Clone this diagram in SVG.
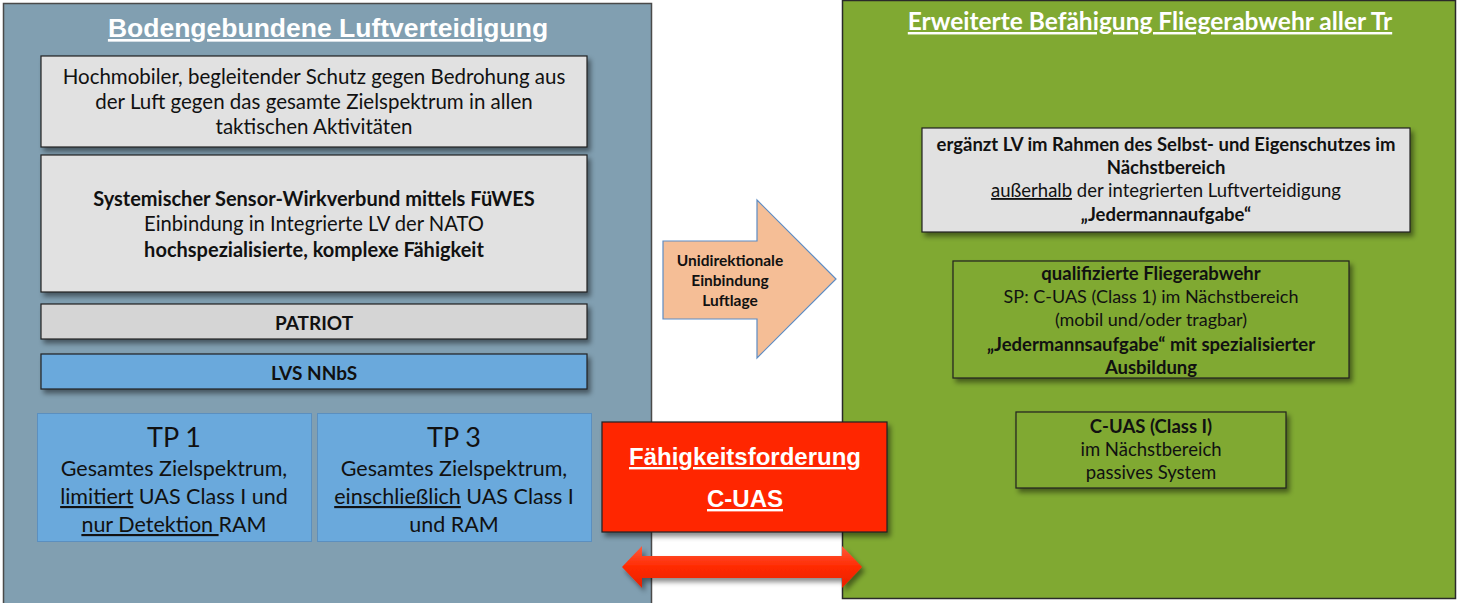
<svg xmlns="http://www.w3.org/2000/svg" width="1458" height="603" viewBox="0 0 1458 603">
<defs>
<filter id="sh" x="-10%" y="-10%" width="125%" height="140%">
<feDropShadow dx="3" dy="4" stdDeviation="2.5" flood-color="#000" flood-opacity="0.45"/>
</filter>
<linearGradient id="rg" x1="0" y1="0" x2="0" y2="1">
<stop offset="0" stop-color="#ff5a3c"/>
<stop offset="0.5" stop-color="#ff2a00"/>
<stop offset="1" stop-color="#e82000"/>
</linearGradient>
</defs>
<style>
.t{font-family:Lato,"Open Sans",sans-serif;fill:#111;text-anchor:middle}
.b{font-weight:bold}
.h{font-family:"Liberation Sans",Arial,sans-serif;font-weight:bold;fill:#fff;text-anchor:middle;text-decoration:underline}
.box{stroke:#222;stroke-width:1.2}
.grey{fill:#e1e1e1}
.blue{fill:#6aa9dc}
</style>
<rect width="1458" height="603" fill="#fff"/>

<g id="left-panel">
<rect x="3.5" y="3.5" width="648" height="605" fill="#819fb1" stroke="#4a4a4a" stroke-width="1.5"/>
<text class="h" x="328" y="37" font-size="26.5">Bodengebundene Luftverteidigung</text>
</g>

<g id="right-panel">
<rect x="842.5" y="0.5" width="613" height="598" fill="#80a932" stroke="#2a2a2a" stroke-width="1.5"/>
<text class="t b" x="1150" y="30" font-size="24.5" style="fill:#fff;text-decoration:underline">Erweiterte Befähigung Fliegerabwehr aller Tr</text>
</g>

<g id="box-hochmobil">
<rect class="box grey" x="41" y="56" width="546" height="91" filter="url(#sh)"/>
<text class="t" x="314" y="84" font-size="20.5">Hochmobiler, begleitender Schutz gegen Bedrohung aus</text>
<text class="t" x="314" y="109" font-size="20.5">der Luft gegen das gesamte Zielspektrum in allen</text>
<text class="t" x="314" y="134" font-size="20.5">taktischen Aktivitäten</text>
</g>

<g id="box-systemisch">
<rect class="box grey" x="41" y="155" width="546" height="137" filter="url(#sh)"/>
<text class="t b" x="314" y="206" font-size="20">Systemischer Sensor-Wirkverbund mittels FüWES</text>
<text class="t" x="314" y="231" font-size="20.2">Einbindung in Integrierte LV der NATO</text>
<text class="t b" x="314" y="257" font-size="20">hochspezialisierte, komplexe Fähigkeit</text>
</g>

<g id="box-patriot">
<rect class="box" x="41" y="304" width="546" height="35" fill="#d5d5d5" filter="url(#sh)"/>
<text class="t b" x="314" y="330" font-size="19">PATRIOT</text>
</g>

<g id="box-lvs">
<rect class="box blue" x="41" y="354" width="546" height="35" filter="url(#sh)"/>
<text class="t b" x="314" y="380" font-size="19">LVS NNbS</text>
</g>

<g id="box-tp1">
<rect x="37.5" y="413.5" width="274" height="128" fill="#6aa9dc" stroke="#5b8fbf" stroke-width="1"/>
<text class="t" x="174" y="447" font-size="27">TP 1</text>
<text class="t" x="174" y="476" font-size="21.5">Gesamtes Zielspektrum,</text>
<text class="t" x="174" y="504" font-size="21.5"><tspan text-decoration="underline">limitiert</tspan> UAS Class I und</text>
<text class="t" x="174" y="532" font-size="21.5"><tspan text-decoration="underline">nur Detektion </tspan>RAM</text>
</g>

<g id="box-tp3">
<rect x="317.5" y="413.5" width="274" height="128" fill="#6aa9dc" stroke="#5b8fbf" stroke-width="1"/>
<text class="t" x="454" y="447" font-size="27">TP 3</text>
<text class="t" x="454" y="476" font-size="21.5">Gesamtes Zielspektrum,</text>
<text class="t" x="454" y="504" font-size="21.5"><tspan text-decoration="underline">einschließlich</tspan> UAS Class I</text>
<text class="t" x="454" y="532" font-size="21.5">und RAM</text>
</g>

<g id="box-ergaenzt">
<rect class="box grey" x="922" y="128" width="488" height="104" filter="url(#sh)"/>
<text class="t b" x="1166" y="151" font-size="18.5">ergänzt LV im Rahmen des Selbst- und Eigenschutzes im</text>
<text class="t b" x="1166" y="174" font-size="18.5">Nächstbereich</text>
<text class="t" x="1166" y="197" font-size="18.5"><tspan text-decoration="underline">außerhalb</tspan> der integrierten Luftverteidigung</text>
<text class="t b" x="1166" y="221" font-size="18.5">„Jedermannaufgabe“</text>
</g>

<g id="box-qualifiziert">
<rect class="box" x="953" y="261" width="396" height="117" fill="#80a932" filter="url(#sh)"/>
<text class="t b" x="1151" y="280" font-size="18.5">qualifizierte Fliegerabwehr</text>
<text class="t" x="1151" y="303" font-size="18">SP: C-UAS (Class 1) im Nächstbereich</text>
<text class="t" x="1151" y="326" font-size="18">(mobil und/oder tragbar)</text>
<text class="t b" x="1151" y="351" font-size="18.5">„Jedermannsaufgabe“ mit spezialisierter</text>
<text class="t b" x="1151" y="374" font-size="18.5">Ausbildung</text>
</g>

<g id="box-cuas">
<rect class="box" x="1016" y="412" width="270" height="76" fill="#80a932" filter="url(#sh)"/>
<text class="t b" x="1151" y="433" font-size="18.5">C-UAS (Class I)</text>
<text class="t" x="1151" y="456" font-size="18.5">im Nächstbereich</text>
<text class="t" x="1151" y="479" font-size="18.5">passives System</text>
</g>

<g id="box-faehigkeit">
<rect x="602" y="422" width="285" height="110" fill="#ff2600" stroke="#222" stroke-width="1.2" filter="url(#sh)"/>
<text class="h" x="745" y="465" font-size="24">Fähigkeitsforderung</text>
<text class="h" x="745" y="507" font-size="24">C-UAS</text>
</g>

<g id="connectors">
<path d="M663,241 H757 V200 L836,279 L757,358 V319 H663 Z" fill="#f5be96" stroke="#5d8cc4" stroke-width="1.2"/>
<text class="t b" x="730" y="266" font-size="15.5">Unidirektionale</text>
<text class="t b" x="730" y="286" font-size="15.5">Einbindung</text>
<text class="t b" x="730" y="306" font-size="15.5">Luftlage</text>
<path d="M622,567 L642,546 V556 H842 V546 L862,567 L842,588 V578 H642 V588 Z" fill="url(#rg)" filter="url(#sh)"/>
</g>
</svg>
